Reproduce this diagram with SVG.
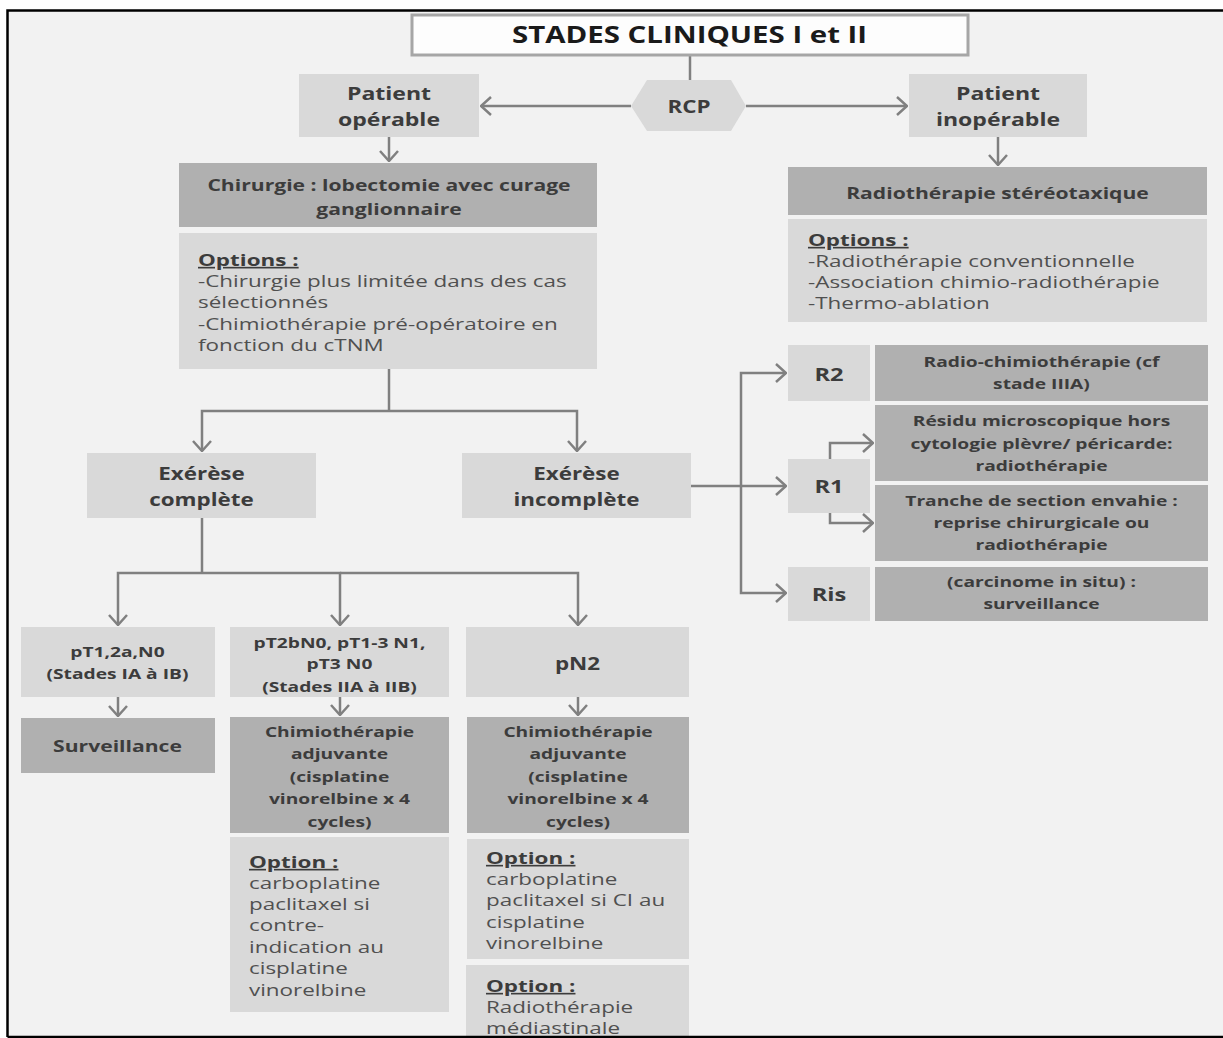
<svg xmlns="http://www.w3.org/2000/svg" width="1223" height="1038" viewBox="0 0 1223 1038">
<defs>
<style>
.lt{fill:#d9d9d9}
.dk{fill:#b0b0b0}
.b{font-family:"Open Sans","Liberation Sans",sans-serif;font-weight:bold;fill:#3c3c3c;text-anchor:middle}
.r{font-family:"Open Sans","Liberation Sans",sans-serif;fill:#505050;font-size:16.5px}
.rb{font-family:"Open Sans","Liberation Sans",sans-serif;font-weight:bold;fill:#3c3c3c;text-decoration:underline;font-size:16.5px}
.cn{fill:none;stroke:#808080;stroke-width:2.5}
</style>
<marker id="ah" viewBox="0 0 12 20" refX="11" refY="10" markerWidth="12" markerHeight="20" orient="auto" markerUnits="userSpaceOnUse">
<path d="M1,1 L11,10 L1,19" fill="none" stroke="#808080" stroke-width="2.5"/>
</marker>
</defs>
<rect x="0" y="0" width="1223" height="1038" fill="#ffffff"/>
<rect x="7.5" y="10.5" width="1225" height="1026.5" fill="#f2f2f2"/>

<g id="connectors">
<path class="cn" d="M690,55 V80"/>
<path class="cn" d="M631,106 H481" marker-end="url(#ah)"/>
<path class="cn" d="M746,106 H907" marker-end="url(#ah)"/>
<path class="cn" d="M389,137 V161" marker-end="url(#ah)"/>
<path class="cn" d="M998,137 V165" marker-end="url(#ah)"/>
<path class="cn" d="M389,369 V411"/>
<path class="cn" d="M389,411 H202 V451" marker-end="url(#ah)"/>
<path class="cn" d="M389,411 H577 V451" marker-end="url(#ah)"/>
<path class="cn" d="M691,486 H786" marker-end="url(#ah)"/>
<path class="cn" d="M741,486 V373 H786" marker-end="url(#ah)"/>
<path class="cn" d="M741,486 V593 H786" marker-end="url(#ah)"/>
<path class="cn" d="M830,459 V443 H873" marker-end="url(#ah)"/>
<path class="cn" d="M830,513 V523 H873" marker-end="url(#ah)"/>
<path class="cn" d="M202,518 V573"/>
<path class="cn" d="M202,573 H118 V625" marker-end="url(#ah)"/>
<path class="cn" d="M202,573 H340 V625" marker-end="url(#ah)"/>
<path class="cn" d="M340,573 H578 V625" marker-end="url(#ah)"/>
<path class="cn" d="M118,697 V716" marker-end="url(#ah)"/>
<path class="cn" d="M340,697 V715" marker-end="url(#ah)"/>
<path class="cn" d="M578,697 V715" marker-end="url(#ah)"/>
</g>

<g id="title">
<rect x="412" y="15" width="556" height="40" fill="#fdfdfd" stroke="#a6a6a6" stroke-width="3"/>
<g transform="scale(1.28 1)"><text class="b" x="538.67" y="43" font-size="23" style="fill:#1a1a1a">STADES CLINIQUES I et II</text></g>
</g>

<g id="rcp">
<polygon class="lt" points="647,80 731,80 746,106 731,131 647,131 631,106"/>
<g transform="scale(1.28 1)"><text class="b" x="538.28" y="113" font-size="17.5">RCP</text></g>
</g>

<g id="patient-operable">
<rect class="lt" x="299" y="74" width="180" height="63"/>
<g transform="scale(1.28 1)">
<text class="b" x="303.91" y="100" font-size="18">Patient</text>
<text class="b" x="303.91" y="126" font-size="18">opérable</text>
</g>
</g>

<g id="patient-inoperable">
<rect class="lt" x="909" y="74" width="178" height="63"/>
<g transform="scale(1.28 1)">
<text class="b" x="779.69" y="100" font-size="18">Patient</text>
<text class="b" x="779.69" y="126" font-size="18">inopérable</text>
</g>
</g>

<g id="chirurgie">
<rect class="dk" x="179" y="163" width="418" height="64"/>
<g transform="scale(1.28 1)">
<text class="b" x="303.91" y="191" font-size="16.5">Chirurgie : lobectomie avec curage</text>
<text class="b" x="303.91" y="215" font-size="16.5">ganglionnaire</text>
</g>
</g>

<g id="options-chirurgie">
<rect class="lt" x="179" y="233" width="418" height="136"/>
<g transform="scale(1.36 1)">
<text class="rb" x="145.59" y="266">Options :</text>
<text class="r" x="145.59" y="287">-Chirurgie plus limitée dans des cas</text>
<text class="r" x="145.59" y="308">sélectionnés</text>
<text class="r" x="145.59" y="330">-Chimiothérapie pré-opératoire en</text>
<text class="r" x="145.59" y="351">fonction du cTNM</text>
</g>
</g>

<g id="radiotherapie-stereotaxique">
<rect class="dk" x="788" y="167" width="419" height="48"/>
<g transform="scale(1.28 1)">
<text class="b" x="779.30" y="199" font-size="16.5">Radiothérapie stéréotaxique</text>
</g>
</g>

<g id="options-radio">
<rect class="lt" x="788" y="219" width="419" height="103"/>
<g transform="scale(1.36 1)">
<text class="rb" x="594.12" y="246">Options :</text>
<text class="r" x="594.12" y="267">-Radiothérapie conventionnelle</text>
<text class="r" x="594.12" y="288">-Association chimio-radiothérapie</text>
<text class="r" x="594.12" y="309">-Thermo-ablation</text>
</g>
</g>

<g id="exerese-complete">
<rect class="lt" x="87" y="453" width="229" height="65"/>
<g transform="scale(1.28 1)">
<text class="b" x="157.42" y="480" font-size="17.5">Exérèse</text>
<text class="b" x="157.42" y="506" font-size="17.5">complète</text>
</g>
</g>

<g id="exerese-incomplete">
<rect class="lt" x="462" y="453" width="229" height="65"/>
<g transform="scale(1.28 1)">
<text class="b" x="450.39" y="480" font-size="17.5">Exérèse</text>
<text class="b" x="450.39" y="506" font-size="17.5">incomplète</text>
</g>
</g>

<g id="r2">
<rect class="lt" x="788" y="345" width="82" height="56"/>
<g transform="scale(1.28 1)"><text class="b" x="647.66" y="381" font-size="18.5">R2</text></g>
</g>
<g id="r2-action">
<rect class="dk" x="875" y="345" width="333" height="56"/>
<g transform="scale(1.28 1)">
<text class="b" x="813.67" y="367" font-size="15">Radio-chimiothérapie (cf</text>
<text class="b" x="813.67" y="389" font-size="15">stade IIIA)</text>
</g>
</g>

<g id="r1">
<rect class="lt" x="788" y="459" width="82" height="54"/>
<g transform="scale(1.28 1)"><text class="b" x="647.66" y="493" font-size="18.5">R1</text></g>
</g>
<g id="r1-residu">
<rect class="dk" x="875" y="405" width="333" height="76"/>
<g transform="scale(1.28 1)">
<text class="b" x="813.67" y="426" font-size="15">Résidu microscopique hors</text>
<text class="b" x="813.67" y="449" font-size="15">cytologie plèvre/ péricarde:</text>
<text class="b" x="813.67" y="471" font-size="15">radiothérapie</text>
</g>
</g>
<g id="r1-tranche">
<rect class="dk" x="875" y="485" width="333" height="76"/>
<g transform="scale(1.28 1)">
<text class="b" x="813.67" y="506" font-size="15">Tranche de section envahie :</text>
<text class="b" x="813.67" y="528" font-size="15">reprise chirurgicale ou</text>
<text class="b" x="813.67" y="550" font-size="15">radiothérapie</text>
</g>
</g>

<g id="ris">
<rect class="lt" x="788" y="567" width="82" height="54"/>
<g transform="scale(1.28 1)"><text class="b" x="647.66" y="601" font-size="18.5">Ris</text></g>
</g>
<g id="ris-action">
<rect class="dk" x="875" y="567" width="333" height="54"/>
<g transform="scale(1.28 1)">
<text class="b" x="813.67" y="587" font-size="15">(carcinome in situ) :</text>
<text class="b" x="813.67" y="609" font-size="15">surveillance</text>
</g>
</g>

<g id="pt1">
<rect class="lt" x="21" y="627" width="194" height="70"/>
<g transform="scale(1.28 1)">
<text class="b" x="91.80" y="657" font-size="15">pT1,2a,N0</text>
<text class="b" x="91.80" y="679" font-size="15">(Stades IA à IB)</text>
</g>
</g>

<g id="pt2">
<rect class="lt" x="230" y="627" width="219" height="70"/>
<g transform="scale(1.28 1)">
<text class="b" x="265.23" y="648" font-size="15">pT2bN0, pT1-3 N1,</text>
<text class="b" x="265.23" y="669" font-size="15">pT3 N0</text>
<text class="b" x="265.23" y="692" font-size="15">(Stades IIA à IIB)</text>
</g>
</g>

<g id="pn2">
<rect class="lt" x="466" y="627" width="223" height="70"/>
<g transform="scale(1.28 1)"><text class="b" x="451.17" y="670" font-size="17.5">pN2</text></g>
</g>

<g id="surveillance">
<rect class="dk" x="21" y="718" width="194" height="55"/>
<g transform="scale(1.28 1)"><text class="b" x="91.80" y="752" font-size="16.5">Surveillance</text></g>
</g>

<g id="chimio-1">
<rect class="dk" x="230" y="717" width="219" height="116"/>
<g transform="scale(1.28 1)">
<text class="b" x="265.23" y="737" font-size="15">Chimiothérapie</text>
<text class="b" x="265.23" y="759" font-size="15">adjuvante</text>
<text class="b" x="265.23" y="782" font-size="15">(cisplatine</text>
<text class="b" x="265.23" y="804" font-size="15">vinorelbine x 4</text>
<text class="b" x="265.23" y="827" font-size="15">cycles)</text>
</g>
</g>

<g id="chimio-2">
<rect class="dk" x="467" y="717" width="222" height="116"/>
<g transform="scale(1.28 1)">
<text class="b" x="451.56" y="737" font-size="15">Chimiothérapie</text>
<text class="b" x="451.56" y="759" font-size="15">adjuvante</text>
<text class="b" x="451.56" y="782" font-size="15">(cisplatine</text>
<text class="b" x="451.56" y="804" font-size="15">vinorelbine x 4</text>
<text class="b" x="451.56" y="827" font-size="15">cycles)</text>
</g>
</g>

<g id="option-1">
<rect class="lt" x="230" y="837" width="219" height="175"/>
<g transform="scale(1.36 1)">
<text class="rb" x="183.09" y="868">Option :</text>
<text class="r" x="183.09" y="889">carboplatine</text>
<text class="r" x="183.09" y="910">paclitaxel si</text>
<text class="r" x="183.09" y="931">contre-</text>
<text class="r" x="183.09" y="953">indication au</text>
<text class="r" x="183.09" y="974">cisplatine</text>
<text class="r" x="183.09" y="996">vinorelbine</text>
</g>
</g>

<g id="option-2">
<rect class="lt" x="467" y="839" width="222" height="120"/>
<g transform="scale(1.36 1)">
<text class="rb" x="357.35" y="864">Option :</text>
<text class="r" x="357.35" y="885">carboplatine</text>
<text class="r" x="357.35" y="906">paclitaxel si CI au</text>
<text class="r" x="357.35" y="928">cisplatine</text>
<text class="r" x="357.35" y="949">vinorelbine</text>
</g>
</g>

<g id="option-3">
<rect class="lt" x="466" y="965" width="223" height="72"/>
<g transform="scale(1.36 1)">
<text class="rb" x="357.35" y="992">Option :</text>
<text class="r" x="357.35" y="1013">Radiothérapie</text>
<text class="r" x="357.35" y="1034">médiastinale</text>
</g>
</g>

<path d="M7.5,1037 V10.5 H1223 M7.5,1037 H1223" fill="none" stroke="#000000" stroke-width="2.5"/>
</svg>
